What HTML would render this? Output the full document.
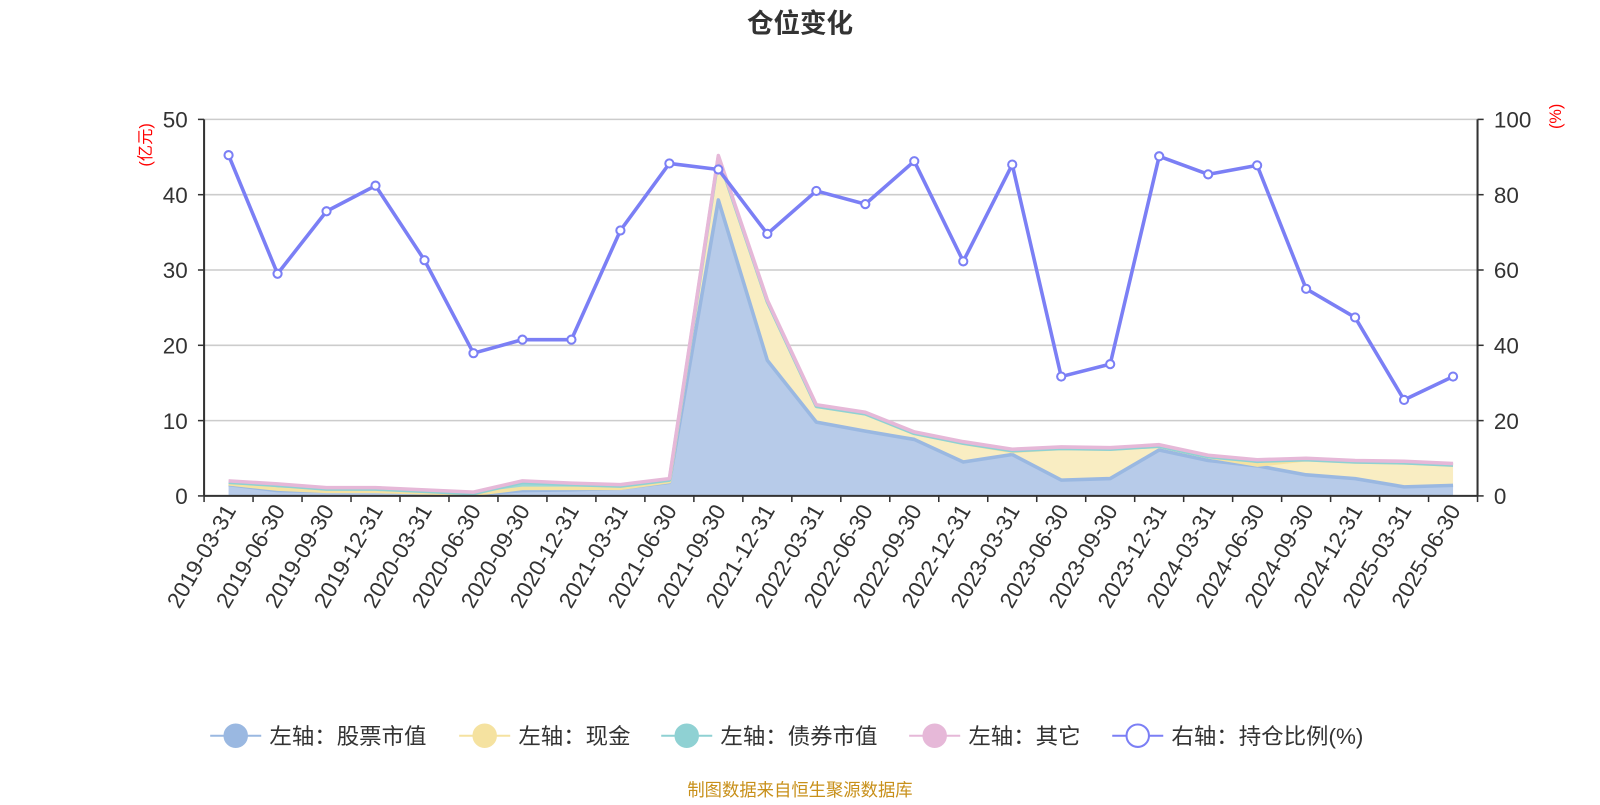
<!DOCTYPE html>
<html><head><meta charset="utf-8"><style>
body{margin:0;background:#fff;font-family:"Liberation Sans","Noto Sans CJK SC",sans-serif;}
svg text{font-family:"Liberation Sans","Noto Sans CJK SC",sans-serif;}
</style></head><body>
<svg id="c" width="1600" height="800"><g id="root" transform="scale(1.0204)"></g></svg>
<script>
const categories=["2019-03-31","2019-06-30","2019-09-30","2019-12-31","2020-03-31","2020-06-30","2020-09-30","2020-12-31","2021-03-31","2021-06-30","2021-09-30","2021-12-31","2022-03-31","2022-06-30","2022-09-30","2022-12-31","2023-03-31","2023-06-30","2023-09-30","2023-12-31","2024-03-31","2024-06-30","2024-09-30","2024-12-31","2025-03-31","2025-06-30"];
const stockValues=[1.5,0.7,0.6,0.6,0.4,0.2,0.7,0.8,1.0,1.8,39.3,18,9.8,8.6,7.5,4.5,5.5,2.1,2.3,6.1,4.7,4.0,2.8,2.3,1.2,1.4];
const cashValues=[0.1,0.2,0,0,0,0,0.3,0.2,0,0.1,5.7,7.8,2.1,2.3,0.8,2.5,0.4,4.2,3.9,0.5,0.5,0.1,2.0,2.2,3.2,2.7];
const bondValues=[0.2,0.5,0.3,0.3,0.2,0.1,0.8,0.5,0.3,0.2,0,0,0,0,0,0,0.1,0,0,0,0,0.5,0,0,0,0];
const otherValues=[0.2,0.2,0.2,0.2,0.2,0.2,0.2,0.2,0.2,0.2,0.2,0.2,0.2,0.2,0.2,0.2,0.2,0.2,0.2,0.2,0.2,0.2,0.2,0.2,0.2,0.2];
const ratioValues=[90.5,59,75.6,82.4,62.6,37.9,41.5,41.5,70.5,88.3,86.7,69.6,81,77.5,88.9,62.3,88,31.7,35,90.2,85.4,87.8,55,47.4,25.5,31.7];
const leftTicks=[0,10,20,30,40,50];
const rightTicks=[0,20,40,60,80,100];
const NS="http://www.w3.org/2000/svg";
const svg=document.getElementById('root');
const L=200,R=1448,T=117,B=486;
const band=(R-L)/categories.length;
const x=i=>L+band*(i+0.5);
const yL=v=>B-(v/50)*(B-T);
const yR=v=>B-(v/100)*(B-T);
function el(tag,attrs,parent){const e=document.createElementNS(NS,tag);for(const k in attrs)e.setAttribute(k,attrs[k]);(parent||svg).appendChild(e);return e;}
function txt(s,attrs){const t=el('text',attrs);t.textContent=s;return t;}
let t=txt('仓位变化',{x:784,y:32,'text-anchor':'middle','font-size':26,'font-weight':'bold',fill:'#333'});

leftTicks.forEach((v,i)=>{
 if(v>0){const g=el('line',{x1:L,x2:R,y1:yL(v),y2:yL(v),stroke:'#ccc','stroke-width':1.5});}
 const a=txt(String(v),{x:184,y:yL(v)+8,'text-anchor':'end','font-size':22,fill:'#333'});
 
 el('line',{x1:L-6,x2:L,y1:yL(v),y2:yL(v),stroke:'#333','stroke-width':1.5});
});
rightTicks.forEach(v=>{
 const a=txt(String(v),{x:1464,y:yR(v)+8,'font-size':22,fill:'#333'});
 
 el('line',{x1:R,x2:R+6,y1:yR(v),y2:yR(v),stroke:'#333','stroke-width':1.5});
});
let yt=txt('(亿元)',{x:0,y:0,'font-size':16,fill:'red','text-anchor':'middle',transform:'translate(148,142) rotate(-90)'});

yt=txt('(%)',{x:0,y:0,'font-size':16,fill:'red','text-anchor':'middle',transform:'translate(1530,114) rotate(-90)'});

const series=[[stockValues,'#b7cbe9','#9ab8e1','stock-area'],[cashValues,'#f9edc2','#f5e2a0','cash-area'],[bondValues,'#9dd8d6','#8fd1d3','bond-area'],[otherValues,'#f0d5e8','#e6b8d8','other-area']];
let base=categories.map(()=>0);
const tops=[];
series.forEach(([vals,fill,stroke,name])=>{
 const top=base.map((b,i)=>b+vals[i]);
 let d='M'+top.map((v,i)=>x(i)+','+yL(v)).join('L');
 d+='L'+base.map((v,i)=>x(i)+','+yL(v)).reverse().join('L')+'Z';
 const a=el('path',{d,fill,stroke:'none'});
 tops.push(top);
 base=top;
});
series.forEach(([vals,fill,stroke,name],k)=>{
 const ln=el('polyline',{points:tops[k].map((v,i)=>x(i)+','+yL(v)).join(' '),fill:'none',stroke,'stroke-width':3.5,'stroke-linejoin':'round'});
 
});
el('line',{x1:L,x2:L,y1:T,y2:B,stroke:'#333','stroke-width':2});
el('line',{x1:R,x2:R,y1:T,y2:B,stroke:'#333','stroke-width':2});
el('line',{x1:L,x2:R,y1:B,y2:B,stroke:'#333','stroke-width':2});
categories.forEach((c,i)=>{
 el('line',{x1:L+band*i,x2:L+band*i,y1:B,y2:B+6,stroke:'#333','stroke-width':1.5});
 const a=txt(c,{x:0,y:0,'font-size':22,fill:'#333','text-anchor':'end',transform:`translate(${x(i)+8},${B+14}) rotate(-60)`});
 
});
el('line',{x1:R,x2:R,y1:B,y2:B+6,stroke:'#333','stroke-width':1.5});
const pl=el('polyline',{points:ratioValues.map((v,i)=>x(i)+','+yR(v)).join(' '),fill:'none',stroke:'#7b7ff5','stroke-width':3.5,'stroke-linejoin':'round'});

ratioValues.forEach((v,i)=>{const p=el('circle',{cx:x(i),cy:yR(v),r:4,fill:'#fff',stroke:'#7b7ff5','stroke-width':2});
 });
const leg=[['左轴：股票市值','#9ab8e1',false,206],['左轴：现金','#f5e2a0',false,450],['左轴：债券市值','#8fd1d3',false,648],['左轴：其它','#e6b8d8',false,891],['右轴：持仓比例(%)','#7b7ff5',true,1090]];
leg.forEach(([s,c,hollow,lx])=>{
 const g=el('g',{});
 el('line',{x1:lx,x2:lx+50,y1:721,y2:721,stroke:c,'stroke-width':2},g);
 el('circle',{cx:lx+25,cy:721,r:11,fill:hollow?'#fff':c,stroke:c,'stroke-width':2},g);
 const tt=document.createElementNS(NS,'text');tt.setAttribute('x',lx+58);tt.setAttribute('y',729);tt.setAttribute('font-size',22);tt.setAttribute('fill','#333');tt.textContent=s;g.appendChild(tt);
});
t=txt('制图数据来自恒生聚源数据库',{x:784,y:780,'text-anchor':'middle','font-size':17,fill:'#c8901a'});

</script>
</body></html>
